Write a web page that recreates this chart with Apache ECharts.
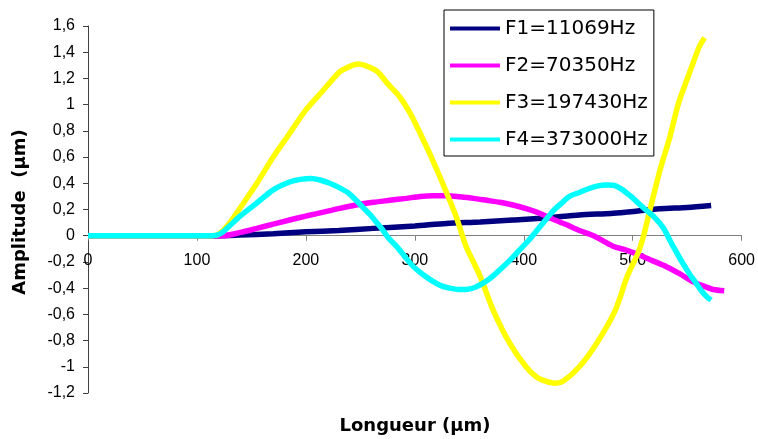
<!DOCTYPE html>
<html>
<head>
<meta charset="utf-8">
<script src="https://cdn.jsdelivr.net/npm/echarts@6/dist/echarts.min.js"></script>
<style>
html,body{margin:0;padding:0;background:#fff;}
#chart{width:758px;height:439px;}
</style>
</head>
<body>
<div id="chart"></div>
<script>
// ---- data ----
const seriesNames = ['F1=11069Hz', 'F2=70350Hz', 'F3=197430Hz', 'F4=373000Hz'];
const xTicks = [0, 100, 200, 300, 400, 500, 600];
const yTicks = [-1.2, -1, -0.8, -0.6, -0.4, -0.2, 0, 0.2, 0.4, 0.6, 0.8, 1, 1.2, 1.4, 1.6];

const f1X = [0, 30, 60, 90, 120, 139, 170, 200, 230, 262, 300, 329, 360, 390, 420, 451, 480, 494, 525, 550, 572];
const f1Y = [0, 0, 0, 0, 0, 0.005, 0.015, 0.03, 0.04, 0.056, 0.075, 0.094, 0.105, 0.12, 0.135, 0.158, 0.17, 0.18, 0.205, 0.215, 0.23];

const f2X = [0, 60, 110, 124, 140, 155, 170, 185, 200, 216, 230, 246, 262, 277, 292, 305, 317, 330, 341, 354, 366, 378, 390, 403, 415, 427, 439, 451, 464, 482, 494, 506, 518, 531, 543, 555, 567, 574, 584];
const f2Y = [0, 0, 0, 0, 0.025, 0.056, 0.088, 0.12, 0.15, 0.18, 0.207, 0.234, 0.255, 0.27, 0.285, 0.30, 0.305, 0.305, 0.297, 0.285, 0.27, 0.255, 0.234, 0.205, 0.17, 0.125, 0.085, 0.04, 0.0, -0.08, -0.11, -0.147, -0.19, -0.236, -0.29, -0.35, -0.39, -0.41, -0.42];

const f3X = [0, 60, 110, 118, 124, 130, 142, 155, 170, 185, 200, 216, 231, 240, 248, 257, 266, 275, 286, 296, 305, 314, 323, 331, 338, 347, 360, 372, 387, 402, 412, 420, 428, 436, 451, 467, 484, 495, 505, 510, 515, 525, 534, 542, 552, 561, 566];
const f3Y = [0, 0, 0, 0.005, 0.04, 0.097, 0.24, 0.40, 0.60, 0.78, 0.96, 1.11, 1.25, 1.29, 1.31, 1.29, 1.25, 1.16, 1.06, 0.93, 0.78, 0.62, 0.45, 0.29, 0.145, -0.08, -0.31, -0.57, -0.82, -1.0, -1.08, -1.11, -1.125, -1.11, -1.0, -0.82, -0.57, -0.31, -0.13, 0.0, 0.17, 0.50, 0.75, 1.01, 1.24, 1.44, 1.51];

const f4X = [0, 60, 110, 118, 124, 139, 155, 170, 185, 195, 205, 213, 222, 231, 240, 252, 259, 265, 270, 276, 283, 290, 298, 308, 317, 325, 332, 340, 347, 355, 363, 370, 378, 387, 396, 404, 412, 420, 427, 435, 442, 451, 460, 468, 476, 482, 489, 497, 505, 513, 520, 528, 537, 546, 552, 558, 563, 568, 572];
const f4Y = [0, 0, 0, 0.005, 0.03, 0.145, 0.25, 0.35, 0.41, 0.43, 0.437, 0.425, 0.40, 0.365, 0.32, 0.22, 0.16, 0.10, 0.05, -0.02, -0.08, -0.15, -0.23, -0.30, -0.35, -0.385, -0.40, -0.41, -0.41, -0.395, -0.36, -0.32, -0.26, -0.19, -0.11, -0.04, 0.04, 0.12, 0.19, 0.25, 0.30, 0.33, 0.36, 0.38, 0.386, 0.385, 0.36, 0.31, 0.25, 0.19, 0.14, 0.06, -0.08, -0.21, -0.29, -0.36, -0.42, -0.465, -0.49];

const colors = ['#000080', '#FF00FF', '#FFFF00', '#00FFFF'];

// ---- build ----
function zip(xs, ys) { return xs.map((x, i) => [x, ys[i]]); }
const allX = [f1X, f2X, f3X, f4X];
const allY = [f1Y, f2Y, f3Y, f4Y];

const chart = echarts.init(document.getElementById('chart'), null, {renderer: 'canvas'});
const tickFont = 'Liberation Sans';
const gridTop = 26, gridBottom = 46, chartH = 439;
const yMin = yTicks[0], yMax = yTicks[yTicks.length - 1];
// move the x axis (line, ticks, labels) up to the y = 0 level
const plotH = chartH - gridTop - gridBottom;
const zeroOffset = -plotH * (0 - yMin) / (yMax - yMin);

chart.setOption({
  animation: false,
  backgroundColor: '#fff',
  grid: {left: 88, right: 16, top: gridTop, bottom: gridBottom, containLabel: false},
  xAxis: {
    type: 'value',
    min: xTicks[0], max: xTicks[xTicks.length - 1], interval: 100,
    offset: zeroOffset,
    axisLine: {show: true, onZero: false, lineStyle: {color: '#808080', width: 1}},
    axisTick: {show: true, length: 5, lineStyle: {color: '#808080'}},
    axisLabel: {margin: 17, fontSize: 16, color: '#000', fontFamily: tickFont},
    splitLine: {show: false}
  },
  yAxis: {
    type: 'value',
    min: yMin, max: yMax, interval: 0.2,
    axisLine: {show: true, lineStyle: {color: '#404040', width: 1}},
    axisTick: {show: true, length: 5, lineStyle: {color: '#404040'}},
    axisLabel: {
      margin: 13, fontSize: 16, color: '#000', fontFamily: tickFont,
      formatter: v => String(Math.round(v * 10) / 10).replace('.', ',')
    },
    splitLine: {show: false}
  },
  legend: {
    orient: 'vertical', left: 444, top: 10,
    padding: [8, 6, 6, 6], itemGap: 16,
    itemWidth: 50, itemHeight: 4, icon: 'rect',
    borderColor: '#000', borderWidth: 1, backgroundColor: '#fff',
    textStyle: {fontFamily: 'DejaVu Sans', fontSize: 20, color: '#000', lineHeight: 21},
    data: seriesNames
  },
  graphic: [
    {type: 'text', x: 415, y: 426, style: {text: 'Longueur (µm)', font: 'bold 18px "DejaVu Sans"', fill: '#000', textAlign: 'center', textVerticalAlign: 'middle', align: 'center', verticalAlign: 'middle'}},
    {type: 'text', x: 20, y: 212, rotation: Math.PI / 2, style: {text: 'Amplitude  (µm)', font: 'bold 18px "DejaVu Sans"', fill: '#000', textAlign: 'center', textVerticalAlign: 'middle', align: 'center', verticalAlign: 'middle'}}
  ],
  series: seriesNames.map((name, i) => ({
    name: name,
    type: 'line',
    data: zip(allX[i], allY[i]),
    showSymbol: false,
    symbol: 'none',
    smooth: 0.25,
    color: colors[i],
    lineStyle: {color: colors[i], width: 5.5},
    z: 2 + i
  }))
});
</script>
</body>
</html>
